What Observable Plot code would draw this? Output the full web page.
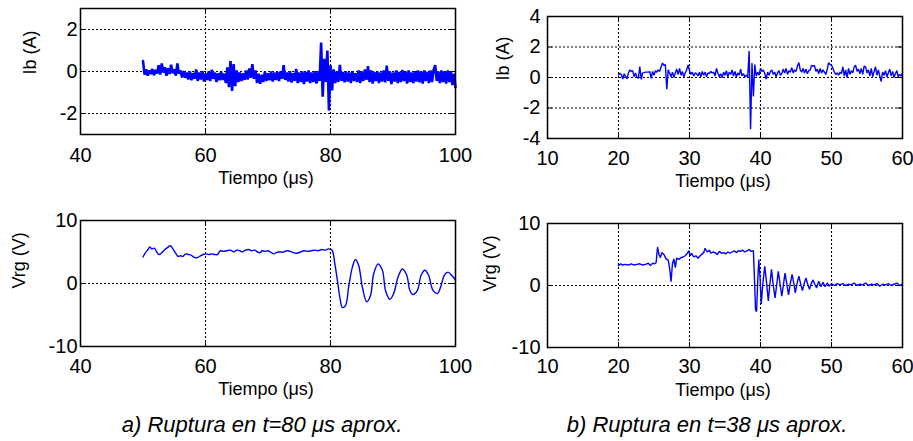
<!DOCTYPE html>
<html>
<head>
<meta charset="utf-8">
<script src="https://cdn.jsdelivr.net/npm/d3@7"></script>
<script src="https://cdn.jsdelivr.net/npm/@observablehq/plot@0.6"></script>
<style>
  body { margin: 0; background: #fff; }
  #wrap { position: relative; width: 913px; height: 441px; overflow: hidden; background: #fff;
          font-family: "Liberation Sans", Arial, sans-serif; }
  .panel { position: absolute; }
  .cap { position: absolute; font-style: italic; font-size: 22px; line-height: 22px;
         text-align: center; width: 420px; color: #000; white-space: nowrap; }
</style>
</head>
<body>
<div id="wrap"></div>
<script>
// ---------- texts ----------
const xLabel = "Tiempo (μs)";
const yLabelI = "Ib (A)";
const yLabelV = "Vrg (V)";
const captionA = "a) Ruptura en t=80 μs aprox.";
const captionB = "b) Ruptura en t=38 μs aprox.";

// ---------- ticks ----------
const xTicksA = [40, 60, 80, 100];
const xTicksB = [10, 20, 30, 40, 50, 60];
const yTicksIbA = [-2, 0, 2];
const yTicksIbB = [-4, -2, 0, 2, 4];
const yTicksV = [-10, 0, 10];

// ---------- series: Ib, case a (t = 50..100 µs, every 0.25 µs) ----------
const ibA_t0 = 50, ibA_dt = 0.25;
const ibA = [
  0.50, -0.15, 0.10, -0.20,   // 50
  0.05, -0.12, 0.12, -0.18,   // 51
  0.08, -0.10, 0.30, -0.15,   // 52
  0.38, -0.05, 0.20, -0.20,   // 53
  0.15, -0.12, 0.32, -0.08,   // 54
  0.10, -0.20, 0.38, -0.10,   // 55
  0.05, -0.28, 0.02, -0.30,   // 56
  -0.05, -0.38, 0.00, -0.42,  // 57
  -0.08, -0.35, 0.10, -0.45,  // 58
  -0.05, -0.38, 0.02, -0.48,  // 59
  -0.10, -0.40, 0.00, -0.45,  // 60
  0.08, -0.35, -0.05, -0.50,  // 61
  -0.08, -0.42, 0.00, -0.40,  // 62
  -0.10, -0.55, 0.20, -0.75,  // 63
  0.50, -0.92, 0.35, -0.70,   // 64
  0.05, -0.50, -0.05, -0.45,  // 65
  -0.08, -0.40, 0.05, -0.38,  // 66
  0.15, -0.30, 0.35, -0.35,   // 67
  0.05, -0.55, -0.10, -0.58,  // 68
  -0.15, -0.50, -0.02, -0.45, // 69
  -0.08, -0.42, 0.00, -0.48,  // 70
  -0.05, -0.40, -0.02, -0.45, // 71
  0.00, -0.35, 0.30, -0.40,   // 72
  -0.05, -0.48, 0.02, -0.52,  // 73
  -0.08, -0.45, 0.12, -0.55,  // 74
  -0.05, -0.50, 0.00, -0.60,  // 75
  -0.02, -0.48, 0.05, -0.55,  // 76
  -0.05, -0.50, 0.02, -0.58,  // 77
  0.00, -0.45, 1.38, -1.20,   // 78
  0.60, -0.50, 1.00, -1.85,   // 79
  0.30, -0.90, 0.10, -0.55,   // 80
  0.00, -0.50, 0.32, -0.45,   // 81
  -0.02, -0.52, 0.00, -0.48,  // 82
  -0.05, -0.55, 0.02, -0.45,  // 83
  -0.08, -0.50, 0.05, -0.55,  // 84
  0.00, -0.45, 0.10, -0.40,   // 85
  0.25, -0.50, 0.05, -0.58,   // 86
  -0.02, -0.45, 0.00, -0.55,  // 87
  -0.05, -0.48, 0.05, -0.52,  // 88
  0.28, -0.45, 0.00, -0.60,   // 89
  -0.05, -0.48, 0.05, -0.55,  // 90
  -0.02, -0.50, 0.08, -0.45,  // 91
  0.00, -0.58, 0.05, -0.50,   // 92
  -0.05, -0.55, 0.02, -0.48,  // 93
  0.05, -0.52, 0.00, -0.58,   // 94
  0.05, -0.45, -0.02, -0.55,  // 95
  0.05, -0.50, 0.08, 0.30,    // 96
  -0.45, 0.00, -0.55, 0.05,   // 97
  -0.50, 0.02, -0.58, 0.05,   // 98
  -0.50, 0.00, -0.65, -0.10,  // 99
  -0.75                       // 100
];

// ---------- series: Ib, case b (t = 20..60 µs, every 0.2 µs) ----------
const ibB_t0 = 20, ibB_dt = 0.2;
const ibB = [
  0.17, 0.28, 0.20, -0.10, 0.25,   // 20
  0.05, -0.08, 0.30, 0.50, 0.40,   // 21
  0.45, 0.05, 0.30, 0.00, -0.05,   // 22
  0.72, -0.12, 0.30, 0.32, 0.35,   // 23
  0.35, 0.35, 0.38, -0.05, 0.40,   // 24
  0.15, 0.45, 0.35, 0.50, 0.40,    // 25
  0.70, 0.95, 0.80, 0.85, -0.76,   // 26
  0.50, 0.30, 0.05, 0.35, 0.00,    // 27
  0.30, 0.55, 0.20, 0.60, 0.15,    // 28
  0.40, 0.05, 0.30, 0.50, 0.83,    // 29
  0.45, 0.20, 0.35, 0.10, 0.30,    // 30
  0.25, 0.10, 0.35, 0.05, 0.40,    // 31
  0.15, 0.35, 0.05, 0.30, 0.25,    // 32
  0.40, 0.30, 0.35, 0.10, 0.60,    // 33
  0.30, 0.05, 0.25, 0.00, 0.35,    // 34
  0.15, 0.45, 0.05, 0.35, 0.20,    // 35
  0.50, 0.10, 0.40, 0.05, 0.30,    // 36
  0.15, 0.55, 0.10, 0.25, 0.05,    // 37
  0.15, 0.05, 1.74, -3.40, 0.95,   // 38
  -1.24, 0.85, 0.10, 0.35, 0.15,   // 39
  0.60, 0.40, 0.50, 0.25, -0.10,   // 40
  0.35, 0.15, 0.40, 0.50, 0.20,    // 41
  0.35, 0.05, 0.30, 0.45, 0.15,    // 42
  0.25, 0.55, 0.30, 0.60, 0.20,    // 43
  0.45, 0.35, 0.65, 0.30, 0.50,    // 44
  0.40, 0.75, 0.98, 0.50, 0.35,    // 45
  0.60, 0.30, 0.55, 0.25, 0.45,    // 46
  0.50, 0.80, 0.75, 0.80, 0.40,    // 47
  0.55, 0.25, 0.60, 0.30, 0.50,    // 48
  0.35, 0.20, 0.55, 0.98, 0.85,    // 49
  0.80, 0.60, 0.35, 0.20, 0.30,    // 50
  0.15, 0.35, 0.25, 0.70, 0.10,    // 51
  0.50, 0.00, 0.60, 0.20, 0.45,    // 52
  0.30, 0.70, 0.80, 0.40, 0.55,    // 53
  0.25, 0.60, 0.20, 0.75, 0.70,    // 54
  0.30, 0.50, 0.10, 0.60, 0.05,    // 55
  0.40, 0.70, 0.15, 0.50, 0.10,    // 56
  -0.26, 0.35, 0.15, 0.45, 0.05,   // 57
  0.30, 0.55, 0.10, 0.40, 0.00,    // 58
  0.25, 0.45, 0.05, 0.20, 0.10,    // 59
  0.30                             // 60
];

// ---------- series: Vrg, case a ----------
const vrgA_t = [
  50.0, 50.4, 50.8, 51.1, 51.4, 51.8, 52.2, 52.5, 52.8, 53.1, 53.5, 53.9, 54.4, 54.9, 55.3, 55.6,
  56.0, 56.4, 56.8, 57.3, 57.7, 58.1, 58.7, 59.2, 59.6, 60.0, 60.5, 61.0, 61.5, 61.9, 62.4, 62.9,
  63.4, 64.0, 64.5, 65.0, 65.5, 65.9, 66.4, 66.9, 67.4, 67.9, 68.3, 68.8, 69.0, 69.5, 70.0, 70.4,
  70.9, 71.3, 71.8, 72.5, 73.0, 73.6, 74.0, 74.6, 75.2, 75.8, 76.3, 76.9, 77.5, 78.0, 78.6, 79.2,
  79.7, 80.0, 80.3, 80.7, 81.1, 81.5, 81.9, 82.4, 82.9, 83.5, 84.0, 84.5, 85.1, 85.8, 86.4, 86.9,
  87.6, 88.3, 88.8, 89.5, 90.1, 90.8, 91.5, 92.2, 92.7, 93.2, 93.9, 94.5, 95.1, 95.7, 96.4, 97.1,
  97.7, 98.2, 98.8, 99.4, 100.0
];
const vrgA_v = [
  4.2, 4.9, 5.4, 5.8, 5.5, 5.6, 5.0, 4.6, 4.7, 5.0, 5.4, 5.7, 6.0, 5.3, 4.7, 4.3,
  4.4, 4.3, 4.7, 4.6, 4.5, 4.2, 4.1, 4.4, 4.6, 4.7, 4.6, 4.7, 4.6, 4.6, 5.2, 5.1,
  5.2, 5.3, 5.0, 5.3, 5.2, 5.0, 5.3, 5.4, 5.2, 5.3, 5.0, 4.9, 5.2, 5.1, 5.2, 5.0,
  4.7, 4.9, 5.0, 5.0, 5.2, 5.1, 4.9, 4.8, 5.0, 5.2, 5.1, 5.2, 5.3, 5.2, 5.4, 5.3,
  5.5, 5.4, 5.2, 3.1, 0.5, -2.2, -3.8, -3.5, -0.6, 2.6, 3.8, 2.9, -0.6, -2.9, -1.9, 1.5,
  3.1, 2.1, -1.1, -2.5, -1.6, 1.0, 2.3, 1.3, -1.1, -1.75, -1.1, 1.3, 2.1, 1.3, -1.1, -1.6,
  -0.3, 1.3, 1.8, 1.3, 0.5
];

// ---------- series: Vrg, case b ----------
const vrgB_t = [
  20.0, 20.3, 20.6, 21.0, 21.4, 21.8, 22.2, 22.6, 23.0, 23.4, 23.8, 24.2, 24.5, 24.8, 25.1, 25.3,
  25.5, 25.7, 25.9, 26.1, 26.4, 26.7, 27.0, 27.2, 27.4, 27.6, 27.8, 28.0, 28.2, 28.5, 28.8, 29.1,
  29.4, 29.7, 29.9, 30.1, 30.3, 30.6, 30.9, 31.2, 31.5, 31.8, 32.0, 32.2, 32.5, 32.8, 33.0, 33.3,
  33.6, 33.9, 34.2, 34.5, 34.8, 35.1, 35.4, 35.7, 36.0, 36.3, 36.6, 36.9, 37.2, 37.5, 37.8, 38.1,
  38.4, 38.7, 39.0, 39.15, 39.3, 39.45, 39.6, 39.76, 39.95, 40.1, 40.35, 40.6, 40.85, 41.1, 41.3, 41.55,
  41.8, 42.05, 42.3, 42.5, 42.75, 43.0, 43.25, 43.45, 43.7, 43.95, 44.2, 44.45, 44.7, 44.9, 45.15, 45.4,
  45.65, 45.9, 46.15, 46.4, 46.65, 46.9, 47.15, 47.4, 47.65, 47.9, 48.2, 48.5, 48.8, 49.1, 49.4, 49.7,
  50.0, 50.4, 50.8, 51.2, 51.6, 52.0, 52.4, 52.8, 53.2, 53.6, 54.0, 54.4, 54.8, 55.2, 55.6, 56.0,
  56.4, 56.8, 57.2, 57.6, 58.0, 58.4, 58.8, 59.2, 59.6, 60.0
];
const vrgB_v = [
  3.2, 3.5, 3.3, 3.4, 3.3, 3.5, 3.3, 3.4, 3.5, 3.3, 3.4, 3.6, 3.2, 3.6, 3.5, 3.7,
  6.2, 5.0, 4.5, 5.3, 5.0, 4.3, 4.1, 2.8, 0.6, 3.5, 4.3, 2.9, 4.4, 4.2, 4.5, 4.6,
  4.8, 5.2, 5.6, 4.8, 5.2, 4.6, 4.8, 4.4, 4.8, 5.1, 5.3, 6.0, 5.4, 5.7, 5.2, 5.4,
  5.3, 5.0, 5.5, 5.2, 5.3, 5.1, 5.4, 5.2, 5.4, 5.6, 5.3, 5.6, 5.5, 5.7, 5.4, 5.6,
  5.8, 5.5, 5.6, 1.0, -3.9, -4.2, 0.5, 4.2, 1.0, -3.0, 0.5, 3.1, 0.5, -2.5, 0.0, 2.6,
  0.0, -2.0, 0.3, 2.3, 0.3, -1.7, 0.3, 2.0, 0.3, -1.5, 0.3, 1.8, 0.3, -1.2, 0.3, 1.5,
  0.3, -0.8, 0.3, 1.2, 0.2, -0.6, 0.3, 0.9, 0.2, -0.4, 0.7, -0.2, 0.5, -0.2, 0.4, -0.1,
  0.3, 0.0, 0.3, 0.1, 0.3, 0.0, 0.2, 0.1, 0.4, 0.0, 0.2, 0.1, 0.4, 0.0, 0.2, 0.1,
  0.3, -0.1, 0.2, 0.1, 0.3, 0.0, 0.2, 0.4, 0.0, 0.2
];

// ---------- drawing ----------
const FONT = "'Liberation Sans', Arial, Helvetica, sans-serif";
const fmt = d => String(d);

function makePanel(c) {
  const innerW = c.width - c.mL - c.mR;
  const innerH = c.height - c.mT - c.mB;
  const data = c.t.map((t, i) => ({t, v: c.v[i]}));
  const dotted = {stroke: "black", strokeOpacity: 1, strokeWidth: 1.1, strokeDasharray: "2,2"};
  const svg = Plot.plot({
    width: c.width,
    height: c.height,
    marginLeft: c.mL, marginRight: c.mR, marginTop: c.mT, marginBottom: c.mB,
    x: {domain: c.xDomain},
    y: {domain: c.yDomain},
    style: {fontFamily: FONT, fontSize: "20px", color: "black", background: "transparent", overflow: "visible"},
    marks: [
      Plot.gridX(c.xTicks, dotted),
      Plot.gridY(c.yTicks, dotted),
      Plot.ruleX(c.xTicks, {stroke: "black", insetTop: innerH - 5}),
      Plot.ruleX(c.xTicks, {stroke: "black", insetBottom: innerH - 5}),
      Plot.ruleY(c.yTicks, {stroke: "black", insetRight: innerW - 5}),
      Plot.ruleY(c.yTicks, {stroke: "black", insetLeft: innerW - 5}),
      Plot.line(data, {x: "t", y: "v", stroke: "#0000ff", strokeWidth: c.sw, strokeLinejoin: "miter", curve: c.curve || "linear"}),
      Plot.frame({stroke: "black", strokeWidth: 1.5}),
      Plot.axisX(c.xTicks, {tickSize: 0, tickPadding: c.padX, fontSize: 20, tickFormat: fmt, label: null}),
      Plot.axisY(c.yTicks, {tickSize: 0, tickPadding: c.padY, fontSize: 20, tickFormat: fmt, label: null}),
      Plot.text([xLabel], {text: d => d, frameAnchor: "bottom", dy: c.xLabDy, dx: -2, fontSize: 18}),
      Plot.text([c.yLabel], {text: d => d, frameAnchor: "left", dx: c.yLabDx, dy: c.yLabDy, rotate: -90, fontSize: 18})
    ]
  });
  svg.classList.add("panel");
  svg.style.left = c.left + "px";
  svg.style.top = c.top + "px";
  svg.style.maxWidth = "none";
  return svg;
}

const wrap = document.getElementById("wrap");

wrap.appendChild(makePanel({
  t: ibA.map((_, i) => ibA_t0 + i * ibA_dt), v: ibA,
  xDomain: [40, 100], yDomain: [-3, 3], xTicks: xTicksA, yTicks: yTicksIbA, yLabel: yLabelI,
  left: 0, top: 0, width: 460, height: 200, mL: 80, mR: 5, mT: 8, mB: 66,
  padX: 13, padY: 3, xLabDy: 49, yLabDx: -50, yLabDy: 3, sw: 2.6
}));

wrap.appendChild(makePanel({
  t: ibB.map((_, i) => ibB_t0 + i * ibB_dt), v: ibB,
  xDomain: [10, 60], yDomain: [-4, 4], xTicks: xTicksB, yTicks: yTicksIbB, yLabel: yLabelI,
  left: 460, top: 0, width: 453, height: 200, mL: 87, mR: 11, mT: 16, mB: 62,
  padX: 12, padY: 7, xLabDy: 48, yLabDx: -44, yLabDy: 3, sw: 1.4
}));

wrap.appendChild(makePanel({
  t: vrgA_t, v: vrgA_v,
  xDomain: [40, 100], yDomain: [-10, 10], xTicks: xTicksA, yTicks: yTicksV, yLabel: yLabelV,
  left: 0, top: 200, width: 460, height: 241, mL: 80, mR: 5, mT: 20, mB: 95,
  padX: 12, padY: 3, xLabDy: 48, yLabDx: -61, yLabDy: 5, sw: 1.4, curve: "catmull-rom"
}));

wrap.appendChild(makePanel({
  t: vrgB_t, v: vrgB_v,
  xDomain: [10, 60], yDomain: [-10, 10], xTicks: xTicksB, yTicks: yTicksV, yLabel: yLabelV,
  left: 460, top: 200, width: 453, height: 241, mL: 87, mR: 11, mT: 23, mB: 94,
  padX: 11, padY: 7, xLabDy: 48, yLabDx: -57, yLabDy: 6, sw: 1.4
}));

function caption(text, cx) {
  const d = document.createElement("div");
  d.className = "cap";
  d.textContent = text;
  d.style.left = (cx - 210) + "px";
  d.style.top = "414px";
  wrap.appendChild(d);
}
caption(captionA, 262);
caption(captionB, 707);
</script>
</body>
</html>
